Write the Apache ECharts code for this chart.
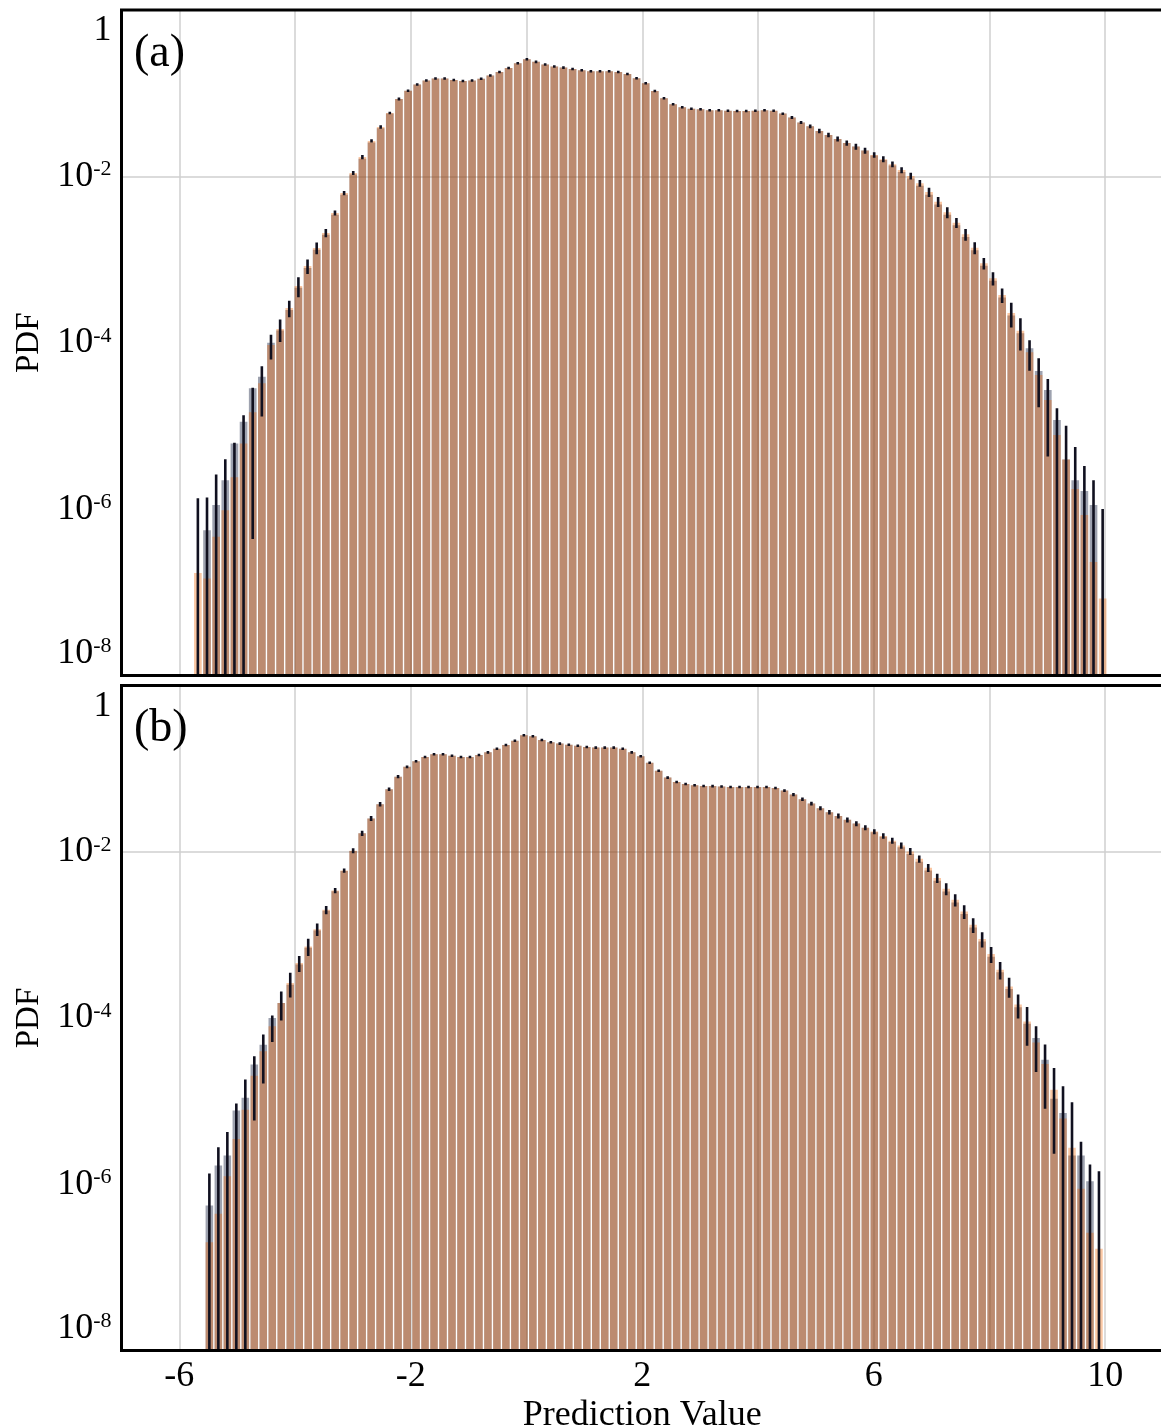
<!DOCTYPE html>
<html><head><meta charset="utf-8">
<script src="https://cdn.jsdelivr.net/npm/echarts@6/dist/echarts.min.js"></script>
<style>html,body{margin:0;padding:0;background:#fff}#c{width:1161px;height:1427px}</style>
</head><body><div id="c"></div>
<script>
// ---------------- data ----------------
const binStartA = -5.759, binWidthA = 0.15795;   // panel (a) histogram bins (100)
const binStartB = -5.559, binWidthB = 0.1553;    // panel (b) histogram bins (100)

const orangeA = [1.71e-7,1.47e-7,4.65e-7,9.72e-7,2.41e-6,6.17e-6,1.46e-5,3.25e-5,9.38e-5,1.46e-4,
 2.61e-4,4.81e-4,8.36e-4,1.38e-3,2.09e-3,3.63e-3,6.31e-3,1.10e-2,1.71e-2,2.67e-2,
 3.93e-2,5.79e-2,8.53e-2,0.107,0.127,0.142,0.150,0.150,0.144,0.140,
 0.142,0.149,0.163,0.180,0.201,0.229,0.256,0.238,0.221,0.209,
 0.203,0.196,0.189,0.184,0.184,0.184,0.180,0.170,0.151,0.132,
 0.106,0.0869,0.0736,0.0678,0.0652,0.0641,0.0624,0.0624,0.0617,0.0611,
 0.0611,0.0617,0.0624,0.0617,0.0568,0.0511,0.0445,0.0400,0.0352,0.0315,
 0.0282,0.0252,0.0228,0.0204,0.0181,0.0161,0.0140,0.0119,0.0101,8.26e-3,
 6.49e-3,4.96e-3,3.70e-3,2.77e-3,2.01e-3,1.39e-3,9.02e-4,5.95e-4,3.75e-4,2.28e-4,
 1.39e-4,7.67e-5,4.09e-5,2.05e-5,7.76e-6,3.96e-6,1.74e-6,8.47e-7,2.32e-7,8.43e-8];

const grayA = [null,5.59e-7,1.12e-6,2.23e-6,6.17e-6,1.12e-5,2.83e-5,3.9e-5,1.0e-4,1.40e-4,
 2.48e-4,4.57e-4,7.94e-4,1.31e-3,1.99e-3,3.45e-3,6.0e-3,1.05e-2,1.63e-2,2.55e-2,
 3.80e-2,5.70e-2,8.53e-2,0.107,0.127,0.142,0.150,0.150,0.144,0.140,
 0.142,0.149,0.163,0.180,0.201,0.229,0.256,0.238,0.221,0.209,
 0.203,0.196,0.189,0.184,0.184,0.184,0.180,0.170,0.151,0.132,
 0.106,0.0869,0.0736,0.0678,0.0652,0.0641,0.0624,0.0624,0.0617,0.0611,
 0.0611,0.0617,0.0624,0.0617,0.0568,0.0511,0.0445,0.0400,0.0352,0.0315,
 0.0282,0.0252,0.0228,0.0204,0.0178,0.0157,0.0135,0.0113,9.4e-3,7.7e-3,
 6.0e-3,4.6e-3,3.45e-3,2.58e-3,1.87e-3,1.29e-3,8.4e-4,5.55e-4,3.5e-4,2.12e-4,
 1.30e-4,8.57e-5,4.57e-5,2.70e-5,1.18e-5,3.96e-6,2.23e-6,1.65e-6,1.12e-6,null];

const relErrA = [6.9,8.4,4.6,3.1,1.6,1.18,0.97,0.6,0.33,0.3,
 0.225,0.27,0.2,0.16,0.115,0.07,0.06,0.055,0.06,0.046,
 0.046,0.035,0.04,0.035,0.035,0.035,0.035,0.035,0.035,0.035,
 0.035,0.035,0.035,0.035,0.035,0.035,0.035,0.035,0.035,0.035,
 0.035,0.035,0.035,0.035,0.035,0.035,0.035,0.035,0.035,0.035,
 0.035,0.035,0.035,0.035,0.035,0.035,0.035,0.035,0.035,0.035,
 0.035,0.035,0.035,0.035,0.035,0.042,0.042,0.05,0.064,0.064,
 0.069,0.074,0.083,0.083,0.074,0.083,0.078,0.083,0.093,0.093,
 0.128,0.138,0.15,0.138,0.16,0.165,0.16,0.18,0.2,0.33,
 0.42,0.40,0.59,0.79,1.1,1.54,2.2,2.9,8.6,10.9];

const orangeB = [2.01e-7,4.41e-7,1.25e-6,3.51e-6,7.9e-6,2.02e-5,3.97e-5,7.93e-5,1.51e-4,2.64e-4,
 4.58e-4,7.26e-4,1.17e-3,2.00e-3,3.42e-3,5.94e-3,1.03e-2,1.67e-2,2.51e-2,3.73e-2,
 5.65e-2,8.01e-2,0.105,0.123,0.138,0.149,0.149,0.143,0.138,0.138,
 0.146,0.157,0.174,0.193,0.217,0.252,0.245,0.221,0.208,0.200,
 0.194,0.189,0.182,0.179,0.179,0.179,0.174,0.157,0.141,0.118,
 0.0946,0.0780,0.0692,0.0655,0.0631,0.0619,0.0616,0.0608,0.0603,0.0600,
 0.0600,0.0603,0.0603,0.0586,0.0544,0.0487,0.0429,0.0380,0.0334,0.0299,
 0.0270,0.0242,0.0218,0.0195,0.0175,0.0155,0.0136,0.0119,0.0101,8.22e-3,
 6.41e-3,4.82e-3,3.58e-3,2.64e-3,1.91e-3,1.32e-3,8.91e-4,5.87e-4,3.81e-4,2.40e-4,
 1.45e-4,9.10e-5,5.09e-5,2.80e-5,1.37e-5,6.16e-6,2.74e-6,8.81e-7,2.61e-7,1.67e-7];

const grayB = [5.55e-7,1.68e-6,2.21e-6,7.69e-6,1.10e-5,2.75e-5,4.78e-5,1.0e-4,1.51e-4,2.52e-4,
 4.40e-4,7.0e-4,1.13e-3,1.95e-3,3.35e-3,5.85e-3,1.02e-2,1.67e-2,2.51e-2,3.73e-2,
 5.65e-2,8.01e-2,0.105,0.123,0.138,0.149,0.149,0.143,0.138,0.138,
 0.146,0.157,0.174,0.193,0.217,0.252,0.245,0.221,0.208,0.200,
 0.194,0.189,0.182,0.179,0.179,0.179,0.174,0.157,0.141,0.118,
 0.0946,0.0780,0.0692,0.0655,0.0631,0.0619,0.0616,0.0608,0.0603,0.0600,
 0.0600,0.0603,0.0603,0.0586,0.0544,0.0487,0.0429,0.0380,0.0334,0.0299,
 0.0270,0.0242,0.0218,0.0195,0.0172,0.0151,0.0131,0.0113,9.4e-3,7.6e-3,
 5.95e-3,4.48e-3,3.33e-3,2.46e-3,1.78e-3,1.23e-3,8.3e-4,5.46e-4,3.54e-4,2.23e-4,
 1.35e-4,8.5e-5,5.75e-5,3.15e-5,1.07e-5,7.21e-6,2.21e-6,2.21e-6,1.09e-6,null];

const relErrB = [5.7,5.3,2.4,1.66,1.3,0.71,0.59,0.35,0.38,0.33,
 0.22,0.235,0.17,0.115,0.074,0.06,0.069,0.074,0.069,0.06,
 0.046,0.046,0.04,0.035,0.035,0.035,0.035,0.035,0.035,0.035,
 0.035,0.035,0.035,0.035,0.035,0.035,0.035,0.035,0.035,0.035,
 0.035,0.035,0.035,0.035,0.035,0.035,0.035,0.035,0.035,0.035,
 0.035,0.035,0.035,0.035,0.035,0.035,0.035,0.035,0.035,0.035,
 0.035,0.035,0.035,0.035,0.04,0.045,0.05,0.05,0.055,0.06,
 0.069,0.069,0.069,0.069,0.069,0.074,0.08,0.085,0.097,0.1,
 0.11,0.13,0.165,0.17,0.19,0.2,0.21,0.22,0.24,0.27,
 0.32,0.49,0.56,0.71,0.83,1.45,2.53,2.68,5.6,7.6];

const xTickLabels = [-6, -2, 2, 6, 10];
const xGridValues = [-6, -4, -2, 0, 2, 4, 6, 8, 10];
const yGridValues = [1e-2, 1e-4, 1e-6];
const yTickExponents = [0, -2, -4, -6, -8];
const panelLabels = ['(a)', '(b)'];
const X_MIN = -7, X_MAX = 11, Y_MIN = 1e-8, Y_MAX = 1;

// ---------------- chart ----------------
const FONT = '"Liberation Serif","Times New Roman",serif';
const GRAY = 'rgba(30,40,70,0.43)';
const ORANGE = 'rgba(240,100,0,0.36)';
const ERR = '#10101f';

function centers(start, w, n) {
  const out = [];
  for (let i = 0; i < n; i++) out.push(start + (i + 0.5) * w);
  return out;
}

function barSeries(k, xs, vals, w, color, z) {
  const data = [];
  xs.forEach((x, i) => { if (vals[i] != null && vals[i] > 0) data.push([x, vals[i]]); });
  return {
    type: 'custom', xAxisIndex: k, yAxisIndex: k, z: z, clip: true, silent: true,
    encode: { x: 0, y: 1 }, data: data,
    renderItem: function (params, api) {
      const x = api.value(0), v = api.value(1);
      const p0 = api.coord([x - w * 0.42, v]);
      const p1 = api.coord([x + w * 0.42, Y_MIN]);
      return { type: 'rect', shape: { x: p0[0], y: p0[1], width: p1[0] - p0[0], height: p1[1] - p0[1] },
               style: { fill: color } };
    }
  };
}

function errSeries(k, xs, vals, rel) {
  const data = xs.map((x, i) => [x, vals[i], rel[i]]);
  return {
    type: 'custom', xAxisIndex: k, yAxisIndex: k, z: 4, clip: true, silent: true,
    encode: { x: 0, y: 1 }, data: data,
    renderItem: function (params, api) {
      const x = api.value(0), v = api.value(1), r = api.value(2);
      const hi = v * (1 + r);
      let lo = v * (1 - r);
      if (!(lo > Y_MIN)) lo = Y_MIN;
      const a = api.coord([x, hi]), b = api.coord([x, lo]);
      return { type: 'line', shape: { x1: a[0], y1: a[1], x2: b[0], y2: b[1] },
               style: { stroke: ERR, lineWidth: 2.6 } };
    }
  };
}

function gridSeries(k) {
  return {
    type: 'line', xAxisIndex: k, yAxisIndex: k, data: [], silent: true, z: 1,
    markLine: {
      silent: true, z: 1, symbol: ['none', 'none'], animation: false,
      label: { show: false },
      lineStyle: { color: '#cfcfcf', width: 1.5, type: 'solid' },
      data: xGridValues.map(v => ({ xAxis: v })).concat(yGridValues.map(v => ({ yAxis: v })))
    }
  };
}

function yFormatter(v) {
  const e = Math.round(Math.log10(v));
  if (!yTickExponents.includes(e)) return '';
  if (e === 0) return '{gapTop| }\n{b|1}';
  if (e === -8) return '{b|10}{s|' + e + '}\n{gapBot| }';
  return '{b|10}{s|' + e + '}';
}

function xAxisCfg(k, showLabels) {
  return {
    type: 'value', gridIndex: k, min: X_MIN, max: X_MAX, interval: 1,
    axisLine: { show: false }, axisTick: { show: false }, splitLine: { show: false },
    axisLabel: {
      show: showLabels, fontFamily: FONT, fontSize: 36, color: '#000', margin: 8,
      formatter: v => (xTickLabels.includes(Math.round(v)) && Math.abs(v - Math.round(v)) < 1e-9) ? String(Math.round(v)) : ''
    },
    name: showLabels ? 'Prediction Value' : '', nameLocation: 'middle', nameGap: 47,
    nameTextStyle: { fontFamily: FONT, fontSize: 36, color: '#000' }
  };
}

function yAxisCfg(k) {
  return {
    type: 'log', logBase: 10, gridIndex: k, min: Y_MIN, max: Y_MAX,
    axisLine: { show: false }, axisTick: { show: false }, splitLine: { show: false },
    minorTick: { show: false }, minorSplitLine: { show: false },
    axisLabel: {
      showMinLabel: true, showMaxLabel: true, margin: 10, color: '#000', fontFamily: FONT,
      formatter: yFormatter,
      rich: {
        b: { fontFamily: FONT, fontSize: 36, lineHeight: 36, color: '#000' },
        s: { fontFamily: FONT, fontSize: 22, lineHeight: 22, color: '#000', verticalAlign: 'top' },
        gapTop: { fontSize: 10, lineHeight: 42 },
        gapBot: { fontSize: 10, lineHeight: 44 }
      }
    },
    name: 'PDF', nameLocation: 'middle', nameGap: 72,
    nameTextStyle: { fontFamily: FONT, fontSize: 33, color: '#000' }
  };
}

const xsA = centers(binStartA, binWidthA, orangeA.length);
const xsB = centers(binStartB, binWidthB, orangeB.length);

const chart = echarts.init(document.getElementById('c'), null, { renderer: 'canvas' });
chart.setOption({
  animation: false,
  backgroundColor: '#fff',
  grid: [
    { left: 121.5, right: -2, top: 10, height: 665.5, show: true, borderColor: '#000', borderWidth: 3,
      backgroundColor: 'transparent', z: 10, containLabel: false, outerBoundsMode: 'none' },
    { left: 121.5, right: -2, top: 685.5, height: 665, show: true, borderColor: '#000', borderWidth: 3,
      backgroundColor: 'transparent', z: 10, containLabel: false, outerBoundsMode: 'none' }
  ],
  xAxis: [xAxisCfg(0, false), xAxisCfg(1, true)],
  yAxis: [yAxisCfg(0), yAxisCfg(1)],
  graphic: [
    { type: 'text', left: 134, top: 31, style: { text: panelLabels[0], font: '46px ' + FONT, fill: '#000' }, z: 20 },
    { type: 'text', left: 134, top: 706, style: { text: panelLabels[1], font: '46px ' + FONT, fill: '#000' }, z: 20 }
  ],
  series: [
    gridSeries(0), gridSeries(1),
    barSeries(0, xsA, grayA, binWidthA, GRAY, 2),
    barSeries(0, xsA, orangeA, binWidthA, ORANGE, 3),
    errSeries(0, xsA, orangeA, relErrA),
    barSeries(1, xsB, grayB, binWidthB, GRAY, 2),
    barSeries(1, xsB, orangeB, binWidthB, ORANGE, 3),
    errSeries(1, xsB, orangeB, relErrB)
  ]
});
</script>
</body></html>
